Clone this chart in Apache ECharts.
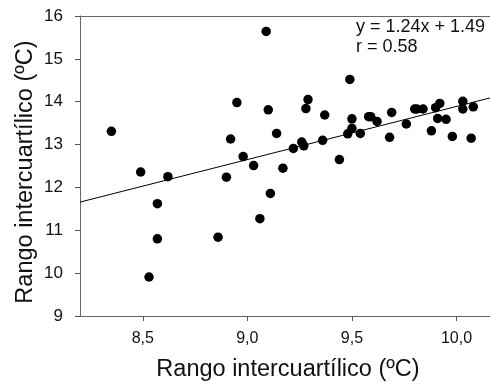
<!DOCTYPE html>
<html>
<head>
<meta charset="utf-8">
<script src="https://cdn.jsdelivr.net/npm/echarts@6/dist/echarts.min.js"></script>
<style>html,body{margin:0;padding:0;background:#fff}#c{width:490px;height:385px}</style>
</head>
<body>
<div id="c"></div>
<script>
var xValues = [8.35,8.49,8.53,8.57,8.57,8.62,8.86,8.90,8.92,8.95,8.98,9.03,9.06,9.09,9.10,9.11,9.14,9.17,9.22,9.26,9.27,9.28,9.29,9.36,9.37,9.44,9.48,9.49,9.50,9.50,9.54,9.58,9.59,9.62,9.68,9.69,9.76,9.80,9.81,9.84,9.88,9.90,9.91,9.92,9.95,9.98,10.03,10.03,10.07,10.08];
var yValues = [13.31,12.36,9.91,11.62,10.80,12.25,10.84,12.24,13.13,13.98,12.72,12.51,11.27,15.64,13.81,11.86,13.26,12.45,12.91,13.06,12.97,13.84,14.05,13.10,13.69,12.65,13.25,14.52,13.60,13.38,13.26,13.65,13.65,13.54,13.17,13.75,13.48,13.83,13.83,13.83,13.32,13.86,13.61,13.96,13.59,13.19,14.01,13.83,13.15,13.88];
var slope = 1.24;
var intercept = 1.49;
var rValue = 0.58;
var xTickValues = [8.5, 9.0, 9.5, 10.0];
var xTickLabels = ['8,5','9,0','9,5','10,0'];
var yTickLabels = ['9','10','11','12','13','14','15','16'];
var xMin = 8.2, xMax = 10.16, yMin = 9, yMax = 16;
var xTitle = 'Rango intercuartílico (ºC)';
var yTitle = 'Rango intercuartílico (ºC)';

var pts = xValues.map(function(x,i){return [x,yValues[i]];});
var fitLine = [[xMin, slope*xMin+intercept],[xMax, slope*xMax+intercept]];
var font = 'Liberation Sans, Arial, sans-serif';
var chart = echarts.init(document.getElementById('c'));
chart.setOption({
  animation:false,
  backgroundColor:'#fff',
  grid:{left:80,right:0,top:16,bottom:69},
  xAxis:{type:'value',min:xMin,max:xMax,
    axisLine:{show:true,lineStyle:{color:'#666',width:1}},
    axisTick:{show:true,length:5,lineStyle:{color:'#555',width:1},customValues:xTickValues},
    axisLabel:{color:'#111',fontSize:16,fontFamily:font,margin:15,
      customValues:xTickValues,
      formatter:function(v){var i=xTickValues.indexOf(Math.round(v*10)/10);return i>=0?xTickLabels[i]:'';}},
    splitLine:{show:false}},
  yAxis:{type:'value',min:yMin,max:yMax,interval:1,
    axisLine:{show:true,lineStyle:{color:'#666',width:1}},
    axisTick:{show:true,length:5,lineStyle:{color:'#555',width:1}},
    axisLabel:{color:'#111',fontSize:17,fontFamily:font,margin:17,
      formatter:function(v){return yTickLabels[Math.round(v-yMin)];}},
    splitLine:{show:false}},
  graphic:[
    {type:'line',shape:{x1:80,y1:16.5,x2:490,y2:16.5},style:{stroke:'#666',lineWidth:1},z:10},
    {type:'text',left:356,top:18,style:{text:'y = '+slope.toFixed(2)+'x + '+intercept.toFixed(2),fontSize:18,fontFamily:font,fill:'#111'}},
    {type:'text',left:356,top:38,style:{text:'r = '+rValue.toFixed(2),fontSize:18,fontFamily:font,fill:'#111'}},
    {type:'text',x:288,y:370,style:{text:xTitle,fontSize:23.5,fontFamily:font,fill:'#111',align:'center',verticalAlign:'middle'}},
    {type:'text',x:26,y:172,rotation:Math.PI/2,style:{text:yTitle,fontSize:23.5,fontFamily:font,fill:'#111',align:'center',verticalAlign:'middle'}}
  ],
  series:[
    {type:'line',data:fitLine,symbol:'none',lineStyle:{color:'#000',width:1},silent:true,z:1},
    {type:'scatter',data:pts,symbol:'circle',symbolSize:9.5,itemStyle:{color:'#000',opacity:1},z:2}
  ]
});
</script>
</body>
</html>
